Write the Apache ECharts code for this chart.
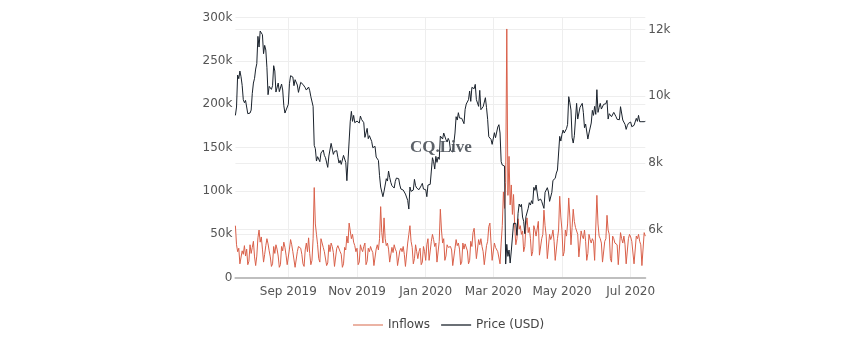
<!DOCTYPE html>
<html>
<head>
<meta charset="utf-8">
<script src="https://cdn.jsdelivr.net/npm/echarts@6/dist/echarts.min.js"></script>
<style>
  html, body { margin: 0; padding: 0; background: #fff; }
  #chart { width: 864px; height: 342px; }
</style>
</head>
<body>
<div id="chart"></div>
<script>
// Daily series from 2019-07-16 through 2020-07-14.
const startDate = '2019-07-16';

// Exchange inflows (thousands), one array per month
const inflowJul19 = [60, 38, 30, 34, 16, 14, 31, 27, 37, 25, 33, 15, 19, 38, 28, 35];
const inflowAug19 = [42, 24, 14, 25, 46, 55, 41, 47, 33, 18, 27, 37, 45, 39, 31, 24, 13, 16, 36, 28, 38, 33, 25, 12, 15, 36, 31, 41, 35, 26, 15];
const inflowSep19 = [17, 33, 44, 38, 30, 29, 12, 14, 30, 36, 38, 34, 27, 16, 13, 32, 40, 30, 46, 28, 15, 20, 45, 104, 62, 50, 38, 22, 18, 45];
const inflowOct19 = [44, 35, 30, 32, 14, 17, 38, 30, 40, 36, 29, 13, 12, 34, 37, 39, 30, 27, 12, 16, 35, 32, 48, 40, 63, 65, 45, 50, 41, 37, 30];
const inflowNov19 = [34, 15, 18, 38, 33, 30, 36, 40, 15, 19, 34, 30, 36, 32, 29, 14, 13, 33, 38, 32, 45, 82, 52, 40, 69, 45, 37, 40, 33, 18];
const inflowDec19 = [16, 35, 29, 38, 33, 30, 14, 13, 31, 34, 30, 36, 27, 13, 15, 40, 50, 60, 42, 35, 16, 22, 38, 30, 22, 30, 34, 15, 18, 36, 30];
const inflowJan20 = [20, 38, 45, 20, 19, 42, 50, 44, 36, 40, 18, 17, 42, 79, 55, 40, 45, 20, 25, 38, 35, 33, 36, 32, 14, 16, 34, 44, 37, 40, 33];
const inflowFeb20 = [15, 18, 40, 33, 39, 37, 31, 16, 20, 42, 36, 52, 57, 40, 22, 20, 44, 38, 45, 36, 30, 15, 17, 37, 42, 59, 63, 40, 20];
const inflowMar20 = [18, 40, 35, 33, 30, 32, 16, 40, 60, 99, 80, 110, 287, 95, 140, 84, 107, 73, 96, 60, 38, 45, 68, 56, 60, 50, 54, 30, 36, 60, 69];
const inflowApr20 = [52, 58, 45, 25, 30, 60, 55, 48, 50, 65, 26, 24, 45, 50, 78, 60, 48, 22, 20, 50, 44, 48, 55, 42, 20, 22, 45, 55, 94, 70];
const inflowMay20 = [55, 25, 30, 55, 48, 62, 92, 70, 38, 58, 79, 65, 58, 60, 50, 24, 22, 54, 48, 45, 55, 42, 20, 28, 50, 44, 40, 45, 42, 20, 22];
const inflowJun20 = [95, 62, 48, 45, 40, 18, 16, 42, 45, 72, 55, 50, 22, 18, 48, 45, 40, 42, 38, 15, 17, 52, 45, 40, 48, 38, 16, 18, 45, 50];
const inflowJul20 = [47, 42, 40, 16, 15, 48, 45, 50, 42, 38, 14, 16, 52, 48];

// BTC price (USD), one array per month
const priceJul19 = [9430, 9680, 10640, 10530, 10760, 10590, 10330, 9900, 9810, 9880, 9850, 9480, 9530, 9500, 9590, 10090];
const priceAug19 = [10400, 10540, 10820, 10980, 11800, 11480, 11960, 11970, 11850, 11280, 11530, 11390, 10860, 10050, 10300, 10340, 10210, 10320, 10920, 10760, 10130, 10130, 10400, 10140, 10140, 10370, 10190, 9720, 9500, 9590, 9630];
const priceSep19 = [9760, 10380, 10620, 10590, 10580, 10320, 10500, 10440, 10340, 10120, 10160, 10420, 10360, 10360, 10310, 10260, 10190, 10160, 10280, 10170, 9990, 10030, 9700, 8530, 8430, 8060, 8190, 8210, 8040, 8300];
const priceOct19 = [8340, 8390, 8230, 8160, 8140, 7870, 8210, 8200, 8590, 8590, 8260, 8350, 8300, 8370, 8170, 8000, 8080, 7960, 7950, 8230, 8230, 8020, 7470, 7440, 8660, 9250, 9550, 9250, 9430, 9210, 9150];
const priceNov19 = [9260, 9310, 9200, 9410, 9310, 9340, 9210, 8770, 8810, 9040, 8730, 8820, 8780, 8650, 8460, 8490, 8500, 8180, 8120, 8080, 7620, 7280, 7320, 6990, 7150, 7180, 7530, 7460, 7760, 7570];
const priceDec19 = [7420, 7320, 7320, 7250, 7450, 7550, 7520, 7530, 7340, 7220, 7200, 7190, 7250, 7070, 7110, 6880, 6620, 7280, 7150, 7190, 7190, 7510, 7320, 7250, 7200, 7200, 7250, 7320, 7390, 7220, 7190];
const priceJan20 = [7200, 6990, 7340, 7350, 7360, 7760, 8160, 8040, 7820, 8200, 8020, 8180, 8110, 8810, 8820, 8720, 8900, 8910, 8700, 8630, 8740, 8660, 8380, 8430, 8330, 8600, 8900, 9390, 9290, 9510, 9350];
const priceFeb20 = [9390, 9340, 9290, 9180, 9610, 9770, 9800, 9900, 10160, 9850, 10270, 10330, 10230, 10360, 9900, 9930, 9700, 10180, 9600, 9610, 9690, 9660, 9960, 9660, 9310, 8790, 8810, 8710, 8560];
const priceMar20 = [8520, 8910, 8760, 8750, 9080, 9150, 8900, 8040, 7940, 7910, 7910, 4970, 5560, 5200, 5390, 5000, 5360, 5410, 6190, 6200, 6190, 5830, 6490, 6770, 6690, 6760, 6380, 6250, 5880, 6390, 6440];
const priceApr20 = [6640, 6810, 6740, 6870, 6780, 7270, 7180, 7340, 7300, 6870, 6890, 6920, 6850, 6840, 6640, 7120, 7090, 7260, 7130, 6850, 6860, 7120, 7480, 7510, 7540, 7700, 7790, 7760, 8800, 8660];
const priceMay20 = [8860, 8990, 8900, 8880, 9030, 9160, 9990, 9810, 9590, 8760, 8600, 8820, 9320, 9790, 9320, 9380, 9670, 9730, 9790, 9510, 9060, 9170, 9180, 8720, 8900, 8840, 9200, 9580, 9430, 9700, 9460];
const priceJun20 = [10200, 9520, 9670, 9790, 9620, 9670, 9760, 9780, 9780, 9880, 9320, 9480, 9480, 9390, 9430, 9520, 9460, 9390, 9310, 9360, 9300, 9690, 9630, 9290, 9250, 9160, 9010, 9120, 9190, 9140];
const priceJul20 = [9230, 9090, 9070, 9130, 9090, 9340, 9250, 9430, 9240, 9290, 9240, 9300, 9240, 9250];

// Axis ticks
const leftTicks = [0, 50, 100, 150, 200, 250, 300];
const rightTicks = [6000, 8000, 10000, 12000];
const monthNames = ['Jan', 'Feb', 'Mar', 'Apr', 'May', 'Jun', 'Jul', 'Aug', 'Sep', 'Oct', 'Nov', 'Dec'];
const labelMonths = [0, 2, 4, 6, 8, 10]; // Jan, Mar, May, Jul, Sep, Nov

const inflows = [].concat(inflowJul19, inflowAug19, inflowSep19, inflowOct19, inflowNov19, inflowDec19,
  inflowJan20, inflowFeb20, inflowMar20, inflowApr20, inflowMay20, inflowJun20, inflowJul20);
const prices = [].concat(priceJul19, priceAug19, priceSep19, priceOct19, priceNov19, priceDec19,
  priceJan20, priceFeb20, priceMar20, priceApr20, priceMay20, priceJun20, priceJul20);

// one category per day
const dates = [];
{
  const d0 = new Date(startDate + 'T00:00:00Z');
  for (let i = 0; i < prices.length; i++) {
    const d = new Date(d0.getTime() + i * 86400000);
    dates.push(d.toISOString().slice(0, 10));
  }
}
function isLabelDay(idx, val) {
  const m = parseInt(val.slice(5, 7), 10) - 1;
  return val.slice(8, 10) === '01' && labelMonths.indexOf(m) >= 0;
}

const font = 'DejaVu Sans';
const chart = echarts.init(document.getElementById('chart'), null, { renderer: 'canvas' });
chart.setOption({
  animation: false,
  backgroundColor: '#ffffff',
  grid: { left: 235.4, right: 218.7, top: 17.7, bottom: 64.3, outerBoundsMode: 'none' },
  legend: {
    left: 348, top: 314,
    icon: 'rect',
    itemWidth: 30, itemHeight: 1.5, itemGap: 11,
    textStyle: { color: '#444', fontSize: 12, fontFamily: font },
    data: [
      { name: 'Inflows', itemStyle: { color: '#e49a86' } },
      { name: 'Price (USD)', itemStyle: { color: '#3a4048' } }
    ]
  },
  xAxis: {
    type: 'category',
    data: dates,
    boundaryGap: false,
    axisLine: { show: true, lineStyle: { color: '#bfbfbf', width: 2 } },
    axisTick: { show: false },
    axisLabel: {
      interval: isLabelDay,
      margin: 8,
      color: '#555',
      fontSize: 12,
      fontFamily: font,
      formatter: v => monthNames[parseInt(v.slice(5, 7), 10) - 1] + ' ' + v.slice(0, 4)
    },
    splitLine: { show: true, interval: isLabelDay, lineStyle: { color: '#eeeeee', width: 1 } }
  },
  yAxis: [
    {
      type: 'value', position: 'left',
      min: leftTicks[0], max: leftTicks[leftTicks.length - 1], interval: 50,
      axisLine: { show: false }, axisTick: { show: false },
      axisLabel: { margin: 3, color: '#555', fontSize: 12, fontFamily: font,
        formatter: v => v === 0 ? '0' : v + 'k' },
      splitLine: { lineStyle: { color: '#eeeeee', width: 1 } }
    },
    {
      type: 'value', position: 'right',
      min: 4560, max: 12360,
      axisLine: { show: false },
      axisTick: { show: false, customValues: rightTicks },
      axisLabel: { margin: 3, color: '#555', fontSize: 12, fontFamily: font,
        customValues: rightTicks, formatter: v => (v / 1000) + 'k' },
      splitLine: { show: true, lineStyle: { color: '#eeeeee', width: 1 } }
    }
  ],
  series: [
    {
      name: 'Inflows', type: 'line', yAxisIndex: 0,
      data: inflows, symbol: 'none', showSymbol: false,
      lineStyle: { color: '#d9604a', width: 1 },
      itemStyle: { color: '#d9604a' },
      z: 2
    },
    {
      name: 'Price (USD)', type: 'line', yAxisIndex: 1,
      data: prices, symbol: 'none', showSymbol: false,
      lineStyle: { color: '#1a222c', width: 1 },
      itemStyle: { color: '#1a222c' },
      z: 3
    }
  ],
  graphic: [
    {
      type: 'text', left: 410, top: 139, z: 10,
      style: { text: 'CQ.Live', font: 'bold 17px "Liberation Serif"', fill: '#4a5058', opacity: 0.9 }
    }
  ]
});
</script>
</body>
</html>
